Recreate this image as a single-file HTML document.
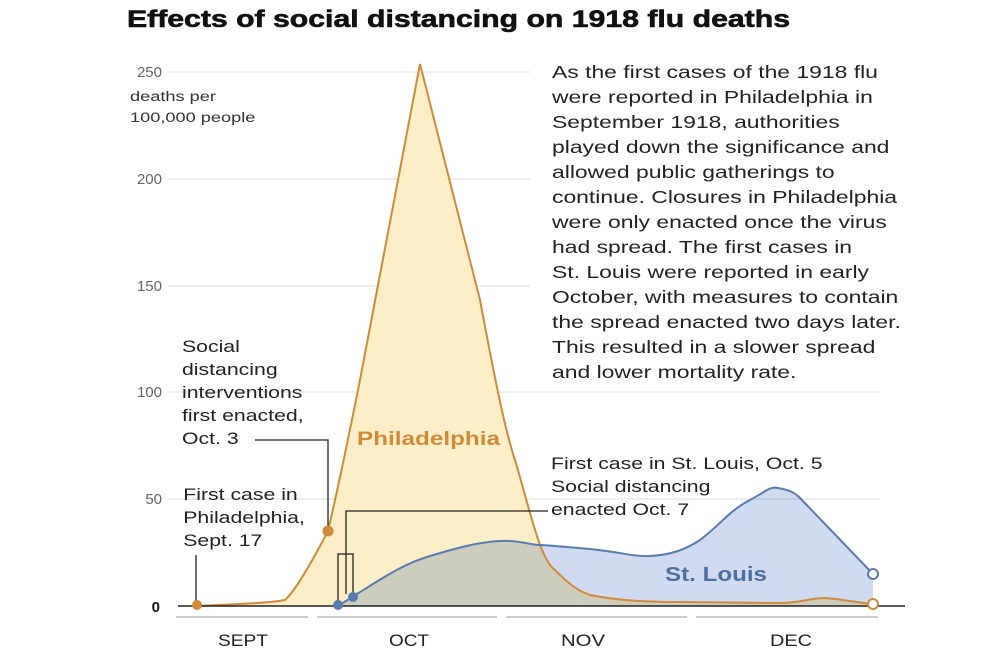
<!DOCTYPE html>
<html><head><meta charset="utf-8"><style>
body{margin:0;background:#fff;}
svg{display:block;font-family:"Liberation Sans",sans-serif;}
</style></head><body>
<svg width="1000" height="664" viewBox="0 0 1000 664">
<rect width="1000" height="664" fill="#fff"/>
<text x="127" y="27" font-size="24" font-weight="bold" fill="#111" textLength="663" lengthAdjust="spacingAndGlyphs" stroke="#111" stroke-width="0.6">Effects of social distancing on 1918 flu deaths</text>
<g stroke="#ddd" stroke-width="1">
<line x1="168" y1="72" x2="530" y2="72"/>
<line x1="168" y1="179" x2="530" y2="179"/>
<line x1="168" y1="286" x2="530" y2="286"/>
<line x1="168" y1="392" x2="880" y2="392"/>
<line x1="168" y1="499" x2="880" y2="499"/>
</g>
<g font-size="15" fill="#666" text-anchor="end">
<text x="162" y="77">250</text>
<text x="162" y="184">200</text>
<text x="162" y="291">150</text>
<text x="162" y="397">100</text>
<text x="162" y="504">50</text>
</g>
<text x="160" y="612" font-size="15" font-weight="bold" fill="#111" text-anchor="end">0</text>
<g transform="translate(130,0) scale(1.3,1) translate(-130,0)" font-size="14" fill="#333">
<text x="130" y="101">deaths per</text>
<text x="130" y="122">100,000 people</text>
</g>
<path d="M197,606 C240,604 270,603 285,600 C293,593 305,575 328,531 C340,480 350,430 360,380 L420,64 L480,300 C495,380 505,430 515,460 C530,510 540,560 555,570 C565,580 575,590 590,595 C620,601 650,602 680,602 L780,603 C800,603 810,598 825,598 C840,599 860,603 873,604 L873,606 Z" fill="#fcefc8"/>
<path d="M338,606 L352,597 C380,580 400,565 430,556 C460,547 480,542 500,541 C520,540 530,545 540,545 C560,546 575,548 590,549 C620,552 635,557 650,556 C670,555 685,550 700,540 C720,525 730,510 750,500 C765,492 770,486 778,488 C790,490 795,493 800,498 L873,574 L873,606 Z" fill="#d0dbf1" style="mix-blend-mode:multiply"/>
<path d="M197,606 C240,604 270,603 285,600 C293,593 305,575 328,531 C340,480 350,430 360,380 L420,64 L480,300 C495,380 505,430 515,460 C530,510 540,560 555,570 C565,580 575,590 590,595 C620,601 650,602 680,602 L780,603 C800,603 810,598 825,598 C840,599 860,603 873,604" fill="none" stroke="#d08a3a" stroke-width="2"/>
<path d="M338,606 L352,597 C380,580 400,565 430,556 C460,547 480,542 500,541 C520,540 530,545 540,545 C560,546 575,548 590,549 C620,552 635,557 650,556 C670,555 685,550 700,540 C720,525 730,510 750,500 C765,492 770,486 778,488 C790,490 795,493 800,498 L873,574" fill="none" stroke="#5a7bb0" stroke-width="2"/>
<line x1="178" y1="606" x2="905" y2="606" stroke="#222" stroke-width="1.5"/>
<g stroke="#222" stroke-width="1.3" fill="none">
<path d="M196,555 V604"/>
<path d="M255,440 H328 V528"/>
<path d="M338,604 V554 H353 V595"/>
<path d="M346,594 V511 H548"/>
</g>
<circle cx="197" cy="605" r="5" fill="#d08a3a"/>
<circle cx="328" cy="531" r="5.5" fill="#d08a3a"/>
<circle cx="338" cy="605" r="5" fill="#5a7bb0"/>
<circle cx="353" cy="597" r="5" fill="#5a7bb0"/>
<circle cx="873" cy="574" r="5" fill="#fff" stroke="#5a7bb0" stroke-width="2"/>
<circle cx="873" cy="604" r="5" fill="#fff" stroke="#d08a3a" stroke-width="2"/>
<text x="357" y="445" font-size="19" font-weight="bold" fill="#d08a3a" textLength="143" lengthAdjust="spacingAndGlyphs">Philadelphia</text>
<text x="665" y="581" font-size="20" font-weight="bold" fill="#4f6fa3" textLength="102" lengthAdjust="spacingAndGlyphs">St. Louis</text>
<g transform="translate(182,0) scale(1.25,1) translate(-182,0)" font-size="17" fill="#222">
<text x="182" y="352">Social</text>
<text x="182" y="375">distancing</text>
<text x="182" y="398">interventions</text>
<text x="182" y="421">first enacted,</text>
<text x="182" y="444">Oct. 3</text>
<text x="183" y="500">First case in</text>
<text x="183" y="523">Philadelphia,</text>
<text x="183" y="546">Sept. 17</text>
</g>
<g transform="translate(551,0) scale(1.25,1) translate(-551,0)" font-size="17" fill="#222">
<text x="551" y="469">First case in St. Louis, Oct. 5</text>
<text x="551" y="492">Social distancing</text>
<text x="551" y="515">enacted Oct. 7</text>
</g>
<g transform="translate(552,0) scale(1.31,1) translate(-552,0)" font-size="17.5" fill="#222">
<text x="552" y="78">As the first cases of the 1918 flu</text>
<text x="552" y="103">were reported in Philadelphia in</text>
<text x="552" y="128">September 1918, authorities</text>
<text x="552" y="153">played down the significance and</text>
<text x="552" y="178">allowed public gatherings to</text>
<text x="552" y="203">continue. Closures in Philadelphia</text>
<text x="552" y="228">were only enacted once the virus</text>
<text x="552" y="253">had spread. The first cases in</text>
<text x="552" y="278">St. Louis were reported in early</text>
<text x="552" y="303">October, with measures to contain</text>
<text x="552" y="328">the spread enacted two days later.</text>
<text x="552" y="353">This resulted in a slower spread</text>
<text x="552" y="378">and lower mortality rate.</text>
</g>
<g stroke="#ccc" stroke-width="2">
<line x1="176" y1="617" x2="308" y2="617"/>
<line x1="317" y1="617" x2="497" y2="617"/>
<line x1="506" y1="617" x2="687" y2="617"/>
<line x1="696" y1="617" x2="878" y2="617"/>
</g>
<g font-size="17" fill="#222" text-anchor="middle">
<text x="243" y="646" textLength="50" lengthAdjust="spacingAndGlyphs">SEPT</text>
<text x="409" y="646" textLength="40" lengthAdjust="spacingAndGlyphs">OCT</text>
<text x="583" y="646" textLength="44" lengthAdjust="spacingAndGlyphs">NOV</text>
<text x="791" y="646" textLength="42" lengthAdjust="spacingAndGlyphs">DEC</text>
</g>
</svg>
</body></html>
